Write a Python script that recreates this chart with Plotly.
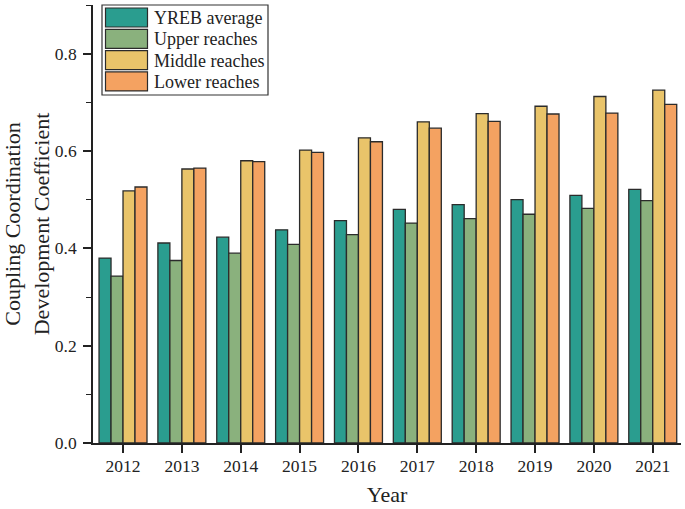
import plotly.graph_objects as go

years = ["2012", "2013", "2014", "2015", "2016", "2017", "2018", "2019", "2020", "2021"]
yreb = [0.380, 0.411, 0.423, 0.438, 0.457, 0.480, 0.490, 0.500, 0.509, 0.521]
upper = [0.343, 0.375, 0.390, 0.408, 0.428, 0.452, 0.461, 0.470, 0.482, 0.498]
middle = [0.518, 0.563, 0.580, 0.602, 0.627, 0.660, 0.677, 0.692, 0.712, 0.725]
lower = [0.526, 0.565, 0.578, 0.597, 0.619, 0.647, 0.661, 0.676, 0.678, 0.696]

names = ["YREB average", "Upper reaches", "Middle reaches", "Lower reaches"]
colors = ["#2a9d8f", "#8ab17d", "#e9c46a", "#f4a261"]
series = [yreb, upper, middle, lower]

W, H = 685, 509
ML, MR, MT, MB = 93, 4, 5, 66
PW, PH = W - ML - MR, H - MT - MB
edge = "#2b2b2b"

fig = go.Figure()
for n, c, s in zip(names, colors, series):
    fig.add_trace(go.Bar(x=years, y=s, name=n, showlegend=False,
                         marker=dict(color=c, line=dict(color=edge, width=1.3))))

font = "Liberation Serif, Times New Roman, serif"

# custom legend (box with wide swatches), positions in paper coords
def px(x):
    return (x - ML) / PW
def py(y):
    return (H - MB - y) / PH

shapes = [dict(type="rect", xref="paper", yref="paper",
               x0=px(102), x1=px(268), y0=py(95), y1=py(5),
               line=dict(color="#333", width=1.2), fillcolor="white", layer="above")]
annotations = []
for i, (n, c) in enumerate(zip(names, colors)):
    top = 8 + i * 21.3
    shapes.append(dict(type="rect", xref="paper", yref="paper",
                       x0=px(105.5), x1=px(147.5), y0=py(top + 19), y1=py(top),
                       line=dict(color=edge, width=1.2), fillcolor=c, layer="above"))
    annotations.append(dict(xref="paper", yref="paper", x=px(151.5), y=py(top + 10),
                            text=n, showarrow=False, xanchor="left", yanchor="middle",
                            font=dict(family=font, size=18, color="#222")))

fig.update_layout(
    width=W, height=H,
    margin=dict(l=ML, r=MR, t=MT, b=MB, autoexpand=False),
    plot_bgcolor="white", paper_bgcolor="white",
    barmode="group", bargap=0.185, bargroupgap=0,
    font=dict(family=font, size=17.5, color="#222"),
    shapes=shapes, annotations=annotations,
    xaxis=dict(range=[-0.51, 9.48], showline=True, linecolor="#222", linewidth=1.6,
               ticks="outside", ticklen=8, tickcolor="#222", tickwidth=1.6,
               ticklabelstandoff=-2,
               title=dict(text="Year", font=dict(size=22), standoff=12),
               tickfont=dict(size=17.5)),
    yaxis=dict(range=[0, 0.9], showline=True, linecolor="#222", linewidth=1.6,
               showgrid=False, zeroline=False,
               tickvals=[0, 0.2, 0.4, 0.6, 0.8], ticktext=["0.0", "0.2", "0.4", "0.6", "0.8"],
               ticks="outside", ticklen=8, tickcolor="#222", tickwidth=1.6,
               ticklabelstandoff=3,
               minor=dict(tickvals=[0.1, 0.3, 0.5, 0.7, 0.9], ticks="outside", ticklen=5, tickcolor="#222", tickwidth=1.3),
               title=dict(text="Coupling Coordination<br>Development Coefficient", font=dict(size=22), standoff=6),
               tickfont=dict(size=17.5)),
)
fig.write_html("out.html", config={"displayModeBar": False},
               post_script="document.body.style.margin='0';document.body.style.padding='0';")
